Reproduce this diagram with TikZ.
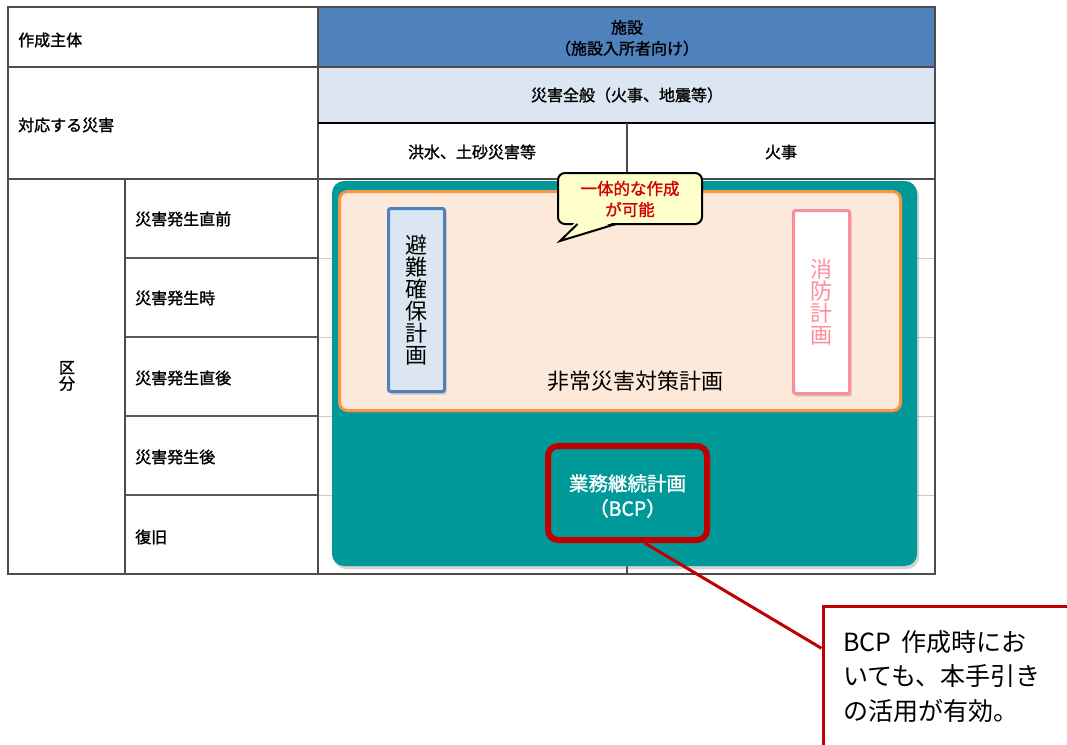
\documentclass[tikz,border=0pt]{standalone}
\usepackage{fontspec}
\setmainfont{Noto Sans CJK JP}
\newfontfamily\semib[FakeBold=1.4]{Noto Sans CJK JP}
\usetikzlibrary{shadows}
\definecolor{hdrblue}{HTML}{4F81BD}
\definecolor{lightblue}{HTML}{DCE6F2}
\definecolor{tealbox}{HTML}{009999}
\definecolor{peach}{HTML}{FDE9D9}
\definecolor{orng}{HTML}{F79646}
\definecolor{pinkb}{HTML}{FF8C9B}
\definecolor{bcpred}{HTML}{C00000}
\definecolor{bubfill}{HTML}{FFFFCC}
\definecolor{bubtext}{HTML}{D00000}
\begin{document}
\begin{tikzpicture}[x=1pt,y=-1pt,
  lbl/.style={anchor=west, inner sep=0pt, font=\semib\fontsize{16}{18}\selectfont},
  ctr/.style={inner sep=0pt, align=center, font=\semib\fontsize{16}{21}\selectfont},
  tline/.style={draw=black!70, line width=1.2pt},
  lgline/.style={draw=black!20, line width=1pt},
  shad/.style={drop shadow={opacity=0.35, shadow xshift=2pt, shadow yshift=-3pt}},
  vtext/.style={inner sep=0pt, align=center, font=\fontsize{22}{22}\selectfont},
]
\clip (0,0) rectangle (1067,744);
\fill[white] (0,0) rectangle (1067,744);

% table fills
\fill[hdrblue] (318,7) rectangle (935,67);
\fill[lightblue] (318,67) rectangle (935,123);

% row lines
\foreach \yy in {258,337,416,495} {
  \draw[lgline] (318,\yy) -- (935,\yy);
  \draw[draw=black!65, line width=1.1pt] (125,\yy) -- (318,\yy);
}
% table lines
\draw[tline] (8,7) rectangle (935,574);
\draw[tline] (318,7) -- (318,574);
\draw[tline] (8,67) -- (935,67);
\draw[draw=black, line width=1.2pt] (318,123) -- (935,123);
\draw[tline] (8,179) -- (935,179);
\draw[tline] (125,179) -- (125,574);
\draw[tline] (627,123) -- (627,574);

% table texts
\node[lbl] (t1) at (18,40) {作成主体};
\node[lbl] (t2) at (18,125) {対応する災害};
\node[ctr] (hdr) at (627,38) {施設\\（施設入所者向け）};
\node[ctr] (all) at (627,95) {災害全般（火事、地震等）};
\node[ctr] (flood) at (472,152) {洪水、土砂災害等};
\node[ctr] (fire) at (781,152) {火事};
\node[inner sep=0pt, align=center, font=\semib\fontsize{16}{16}\selectfont] (kubun) at (67,376) {区\\分};
\node[lbl] (r1) at (135,219) {災害発生直前};
\node[lbl] (r2) at (135,298) {災害発生時};
\node[lbl] (r3) at (135,378) {災害発生直後};
\node[lbl] (r4) at (135,457) {災害発生後};
\node[lbl] (r5) at (135,537) {復旧};

% teal box
\node[fill=tealbox, rounded corners=12pt, minimum width=585pt, minimum height=385pt, inner sep=0pt, shad] (teal) at (624.5,373.5) {};
% orange box
\node[fill=peach, draw=orng, line width=3pt, rounded corners=8pt, minimum width=561pt, minimum height=219pt, inner sep=0pt, shad] (plan) at (620,301) {};
\node[inner sep=0pt, font=\fontsize{22}{22}\selectfont] (plantext) at (635,381) {非常災害対策計画};
% evacuation box
\node[fill=lightblue, draw=hdrblue, line width=3pt, rounded corners=2pt, minimum width=56pt, minimum height=183pt, inner sep=0pt, shad] (evac) at (416.5,300) {};
\node[vtext] (evactext) at (416.5,300) {避\\難\\確\\保\\計\\画};
% fire prevention box
\node[fill=white, draw=pinkb, line width=3pt, rounded corners=2pt, minimum width=56pt, minimum height=183pt, inner sep=0pt, shad] (firebox) at (821.5,302) {};
\node[vtext, text=pinkb] (firetext) at (821.5,302) {消\\防\\計\\画};

% speech bubble
\node[fill=bubfill, draw=black, line width=2pt, rounded corners=7pt, minimum width=144pt, minimum height=51pt, inner sep=0pt] (bubble) at (630,198.5) {};
\fill[bubfill] (576,221) -- (560,241) -- (618,221) -- cycle;
\draw[black, line width=2pt, line join=miter] (577.5,224) -- (560,241) -- (616,224);
\node[inner sep=0pt, align=center, text=bubtext, font=\semib\fontsize{16.5}{21}\selectfont] (bubtext) at (630,199) {一体的な作成\\が可能};

% BCP box
\node[draw=bcpred, line width=6pt, rounded corners=10pt, minimum width=159pt, minimum height=94pt, inner sep=0pt] (bcp) at (627.5,493) {};
\node[inner sep=0pt, align=center, text=white, font=\semib\fontsize{19.5}{25}\selectfont] (bcptext) at (627.5,496) {業務継続計画\\（BCP）};

% note box
\node[draw=bcpred, line width=3pt, fill=white, minimum width=260pt, minimum height=160pt, anchor=north west, inner sep=0pt] (note) at (821.5,604.5) {};
\node[anchor=north west, inner sep=0pt, align=left, font=\fontsize{25}{34.5}\selectfont] (notetext) at (843,630) {BCP\hspace{0.4em}作成時にお\\いても、本手引き\\の活用が有効。};
\draw[bcpred, line width=3pt] (bcp.-71) -- (note.164);
\end{tikzpicture}
\end{document}
